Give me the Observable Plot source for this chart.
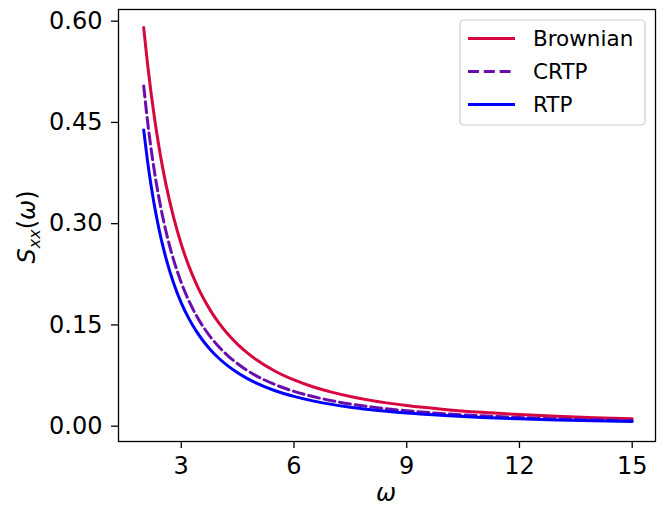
<!DOCTYPE html>
<html><head><meta charset="utf-8">
<script src="https://cdn.jsdelivr.net/npm/d3@7"></script>
<script src="https://cdn.jsdelivr.net/npm/@observablehq/plot@0.6"></script>
<style>body{margin:0;background:#fff}</style>
</head><body><div id="chart"></div>
<script>
const omega = [2, 2.1, 2.2, 2.3, 2.4, 2.5, 2.6, 2.8, 3, 3.2, 3.4, 3.6, 3.8, 4, 4.25, 4.5, 4.75, 5, 5.5, 6, 6.5, 7, 7.5, 8, 9, 10, 11, 12, 13, 14, 15];
const brownian = [0.5905, 0.5380, 0.4921, 0.4517, 0.4161, 0.3845, 0.3563, 0.3085, 0.2696, 0.2375, 0.2109, 0.1884, 0.1694, 0.1531, 0.1358, 0.1213, 0.1090, 0.0984, 0.0814, 0.0685, 0.0584, 0.0504, 0.0439, 0.0386, 0.0305, 0.0248, 0.0205, 0.0172, 0.0147, 0.0126, 0.0110];
const crtp = [0.5041, 0.4532, 0.4098, 0.3725, 0.3401, 0.3119, 0.2871, 0.2457, 0.2127, 0.1860, 0.1641, 0.1459, 0.1306, 0.1176, 0.1039, 0.0925, 0.0828, 0.0746, 0.0615, 0.0516, 0.0439, 0.0378, 0.0329, 0.0289, 0.0228, 0.0185, 0.0153, 0.0128, 0.0109, 0.0094, 0.0082];
const rtp = [0.4389, 0.3937, 0.3553, 0.3224, 0.2940, 0.2692, 0.2476, 0.2115, 0.1828, 0.1597, 0.1408, 0.1251, 0.1118, 0.1006, 0.0889, 0.0791, 0.0708, 0.0638, 0.0525, 0.0441, 0.0375, 0.0323, 0.0281, 0.0247, 0.0194, 0.0157, 0.0130, 0.0109, 0.0093, 0.0080, 0.0070];
const seriesNames = ["Brownian", "CRTP", "RTP"];
const seriesColors = ["#d6083f", "#6a0dad", "#0000ff"];
const seriesDash = [null, "11,4.8", null];
const xTicks = [3, 6, 9, 12, 15];
const yTicks = [0, 0.15, 0.30, 0.45, 0.60];

const rows = (vals) => omega.map((w, i) => ({omega: w, value: vals[i]}));
const allSeries = [brownian, crtp, rtp];

const chart = Plot.plot({
  width: 666, height: 508,
  marginLeft: 118, marginRight: 11, marginTop: 9, marginBottom: 67,
  style: {fontFamily: "'DejaVu Sans'", fontSize: "24px", color: "black", background: "white"},
  x: {domain: [1.33, 15.62]},
  y: {domain: [-0.0227, 0.6173]},
  marks: [
    ...allSeries.map((s, i) => Plot.line(rows(s), {
      x: "omega", y: "value", stroke: seriesColors[i], strokeWidth: 3,
      strokeDasharray: seriesDash[i] || undefined, curve: "monotone-x"
    })),
    Plot.axisX({ticks: xTicks, tickSize: 7, tickPadding: 8, tickFormat: d => String(d), label: null, strokeWidth: 1.3}),
    Plot.axisY({ticks: yTicks, tickSize: 7, tickPadding: 9, tickFormat: d3.format(".2f"), label: null, strokeWidth: 1.3}),
    Plot.frame({stroke: "black", strokeWidth: 1.3})
  ]
});

const svg = d3.select(chart);
// y-axis label S_xx(ω)
const yl = svg.append("text")
  .attr("transform", "translate(35,227) rotate(-90)")
  .attr("text-anchor", "middle")
  .attr("font-family", "'DejaVu Sans'")
  .attr("font-size", 24)
  .attr("fill", "black");
yl.append("tspan").attr("font-style", "italic").text("S");
yl.append("tspan").attr("font-style", "italic").attr("font-size", 16).attr("dy", 5).text("xx");
yl.append("tspan").attr("dy", -5).text("(");
yl.append("tspan").attr("font-style", "italic").text("ω");
yl.append("tspan").text(")");

// x-axis label ω
svg.append("text")
  .attr("x", 386).attr("y", 501)
  .attr("text-anchor", "middle")
  .attr("font-family", "'DejaVu Sans'")
  .attr("font-style", "italic")
  .attr("font-size", 24)
  .attr("fill", "black")
  .text("ω");

// legend
const lg = svg.append("g");
lg.append("rect").attr("x", 460).attr("y", 20).attr("width", 185).attr("height", 105)
  .attr("rx", 4).attr("fill", "white").attr("fill-opacity", 0.8)
  .attr("stroke", "#cccccc").attr("stroke-width", 1.2);
seriesNames.forEach((name, i) => {
  const cy = 38.5 + i * 33;
  lg.append("line").attr("x1", 468).attr("x2", 515).attr("y1", cy).attr("y2", cy)
    .attr("stroke", seriesColors[i]).attr("stroke-width", 3)
    .attr("stroke-dasharray", seriesDash[i]);
  lg.append("text").attr("x", 533).attr("y", cy).attr("dy", "0.36em")
    .attr("text-anchor", "start")
    .attr("font-family", "'DejaVu Sans'").attr("font-size", 21.5).attr("fill", "black")
    .text(name);
});

document.getElementById("chart").appendChild(chart);
</script>
</body></html>
